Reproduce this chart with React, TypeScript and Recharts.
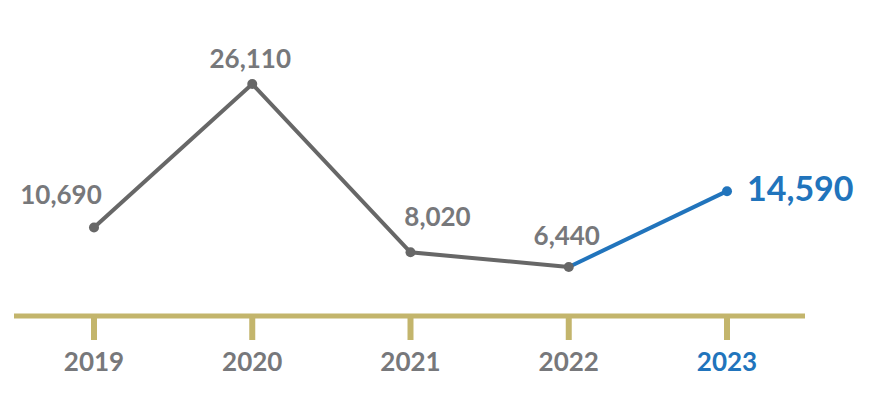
import { LineChart, Line, XAxis, YAxis, LabelList } from "recharts";

const years = ["2019", "2020", "2021", "2022", "2023"];
const values = [10690, 26110, 8020, 6440, 14590];
// the last segment (2022 → 2023) is drawn in blue
const highlightFrom = 3;

const GRAY_LINE = "#676767";
const GRAY_TEXT = "#77787b";
const BLUE = "#2174bc";
const GOLD = "#c3b56c";
const FONT = "Lato, 'Open Sans', sans-serif";

const data = years.map((year, i) => ({
  year,
  value: values[i],
  past: i <= highlightFrom ? values[i] : null,
  current: i >= highlightFrom ? values[i] : null,
}));

// label placement around each point
const LABEL_OFFSETS = [
  { dx: -33, dy: -23 },
  { dx: -2, dy: -16 },
  { dx: 27, dy: -26 },
  { dx: -2, dy: -22 },
];

const fmt = (v: number) => v.toLocaleString("en-US");

// eslint-disable-next-line @typescript-eslint/no-explicit-any
const PointLabel = (props: any) => {
  const { x, y, index } = props;
  const v = values[index];
  if (index === years.length - 1) {
    return (
      <text x={x + 20} y={y + 10} textAnchor="start" fill={BLUE}
        fontFamily={FONT} fontWeight={700} fontSize={34}>
        {fmt(v)}
      </text>
    );
  }
  const o = LABEL_OFFSETS[index];
  return (
    <text x={x + o.dx} y={y + o.dy} textAnchor="middle" fill={GRAY_TEXT}
      fontFamily={FONT} fontWeight={700} fontSize={26}>
      {fmt(v)}
    </text>
  );
};

// only the last point of the blue segment gets a dot
// eslint-disable-next-line @typescript-eslint/no-explicit-any
const LastDot = (props: any) => {
  const { cx, cy, index } = props;
  if (index !== years.length - 1 || cx == null || cy == null) return <g key={index} />;
  return <circle key={index} cx={cx} cy={cy} r={5} fill={BLUE} />;
};

// eslint-disable-next-line @typescript-eslint/no-explicit-any
const YearTick = (props: any) => {
  const { x, y, payload, index } = props;
  const last = index === years.length - 1;
  return (
    <text x={x} y={y + 31} textAnchor="middle" fill={last ? BLUE : GRAY_TEXT}
      fontFamily={FONT} fontWeight={700} fontSize={26}>
      {payload.value}
    </text>
  );
};

export default function App() {
  return (
    <div style={{ position: "absolute", left: 0, top: 0, background: "#fff" }}>
      <LineChart width={869} height={395} data={data}
        margin={{ top: 40, right: 64, bottom: 0, left: 14 }}>
        <XAxis
          dataKey="year"
          height={79}
          padding={{ left: 80, right: 78 }}
          axisLine={{ stroke: GOLD, strokeWidth: 5 }}
          tickLine={{ stroke: GOLD, strokeWidth: 6 }}
          tickSize={24}
          tickMargin={0}
          tick={<YearTick />}
          interval={0}
        />
        <YAxis hide domain={[1170, 30840]} allowDataOverflow />
        <Line
          dataKey="past"
          stroke={GRAY_LINE}
          strokeWidth={4}
          dot={{ r: 5, fill: GRAY_LINE, stroke: GRAY_LINE, strokeWidth: 0 }}
          isAnimationActive={false}
        />
        <Line
          dataKey="current"
          stroke={BLUE}
          strokeWidth={4}
          dot={<LastDot />}
          isAnimationActive={false}
        />
        <Line
          dataKey="value"
          stroke="none"
          dot={false}
          activeDot={false}
          isAnimationActive={false}
        >
          <LabelList dataKey="value" content={<PointLabel />} />
        </Line>
      </LineChart>
    </div>
  );
}
